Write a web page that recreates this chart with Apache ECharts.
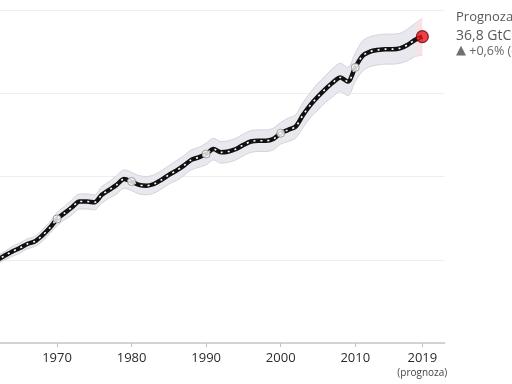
<!DOCTYPE html>
<html><head><meta charset="utf-8">
<script src="https://cdn.jsdelivr.net/npm/echarts@6/dist/echarts.min.js"></script>
<style>html,body{margin:0;padding:0;background:#fff;overflow:hidden}#c{width:512px;height:384px}</style>
</head><body><div id="c"></div>
<script>
// ---- data (GtCO2) ----
const axisYears = [1960,1961,1962,1963,1964,1965,1966,1967,1968,1969,
  1970,1971,1972,1973,1974,1975,1976,1977,1978,1979,
  1980,1981,1982,1983,1984,1985,1986,1987,1988,1989,
  1990,1991,1992,1993,1994,1995,1996,1997,1998,1999,
  2000,2001,2002,2003,2004,2005,2006,2007,2008,2009,
  2010,2011,2012,2013,2014,2015,2016,2017,2018,2019,
  2020,2021,2022];
const emissions = [9.4,9.5,10.0,10.5,11.0,11.4,11.9,12.2,12.9,13.8,
  14.9,15.6,16.3,17.0,17.0,16.9,17.8,18.4,19.0,19.7,
  19.4,19.0,18.9,19.1,19.6,20.2,20.7,21.3,22.0,22.3,
  22.7,23.3,22.9,23.0,23.3,23.8,24.2,24.3,24.3,24.5,
  25.2,25.6,26.0,27.4,28.6,29.6,30.5,31.3,31.9,31.4,
  33.1,34.5,35.0,35.2,35.3,35.3,35.4,35.8,36.4,36.8];
const uncertainty = [0.5,0.5,0.5,0.5,0.6,0.6,0.6,0.6,0.7,0.7,
  0.8,0.8,0.9,0.9,0.9,0.9,1.0,1.0,1.1,1.1,
  1.1,1.1,1.1,1.1,1.1,1.1,1.2,1.2,1.2,1.2,
  1.3,1.3,1.3,1.3,1.3,1.3,1.3,1.3,1.3,1.3,
  1.3,1.4,1.4,1.5,1.5,1.6,1.6,1.7,1.7,1.7,
  1.7,1.8,1.8,1.8,1.8,1.8,1.8,1.9,2.0,2.2];
const markerYears = [1970,1980,1990,2000,2010];
const tickYears = [1970,1980,1990,2000,2010,2019];
const forecastYear = 2019;
const forecastNote = '(prognoza)';
const sideTitle = 'Prognoza';
const sideValue = '36,8 GtCO₂';
const sideChange = '+0,6% (-0,2% do +1,5%)';

// ---- build ----
const fIdx = axisYears.indexOf(forecastYear);
const bandLow = axisYears.map((y,i)=> i < fIdx ? +(emissions[i]-uncertainty[i]).toFixed(2) : '-');
const bandThick = axisYears.map((y,i)=> i < fIdx ? +(2*uncertainty[i]).toFixed(2) : '-');
const projLow = axisYears.map((y,i)=> (i===fIdx-1||i===fIdx) ? +(emissions[i]-uncertainty[i]).toFixed(2) : '-');
const projThick = axisYears.map((y,i)=> (i===fIdx-1||i===fIdx) ? +(2*uncertainty[i]).toFixed(2) : '-');
const markers = markerYears.map(y=>[String(y), emissions[axisYears.indexOf(y)]]);
const forecastPt = [[String(forecastYear), emissions[fIdx]]];
const isTick = (i, v) => tickYears.indexOf(+v) >= 0;

const SM = 0.3;
const FONT = 'Open Sans';
const chart = echarts.init(document.getElementById('c'), null, {renderer:'canvas'});
chart.setOption({
  animation:false,
  backgroundColor:'#fff',
  textStyle:{fontFamily:FONT},
  grid:{left:-17.5, right:67.3, top:10, bottom:41, containLabel:false, outerBoundsMode:'none'},
  xAxis:{type:'category', data:axisYears.map(String), boundaryGap:false,
    axisLine:{show:true, lineStyle:{color:'#c8c8c8', width:1.5}},
    axisTick:{show:true, interval:isTick, length:4, lineStyle:{color:'#c0c0c0'}},
    axisLabel:{interval:isTick, margin:7, color:'#2b2b2b', fontSize:13, fontFamily:FONT,
      formatter:v => (+v)===forecastYear ? '{a|'+v+'}\n{b|'+forecastNote+'}' : '{a|'+v+'}',
      rich:{a:{fontSize:13, lineHeight:17, color:'#2b2b2b', fontFamily:FONT},
            b:{fontSize:10, lineHeight:13, color:'#444', fontFamily:FONT}}},
    splitLine:{show:false}},
  yAxis:{type:'value', min:0, max:40, interval:10,
    axisLine:{show:false}, axisTick:{show:false}, axisLabel:{show:false},
    splitLine:{show:true, lineStyle:{color:'#efefef', width:1}}},
  graphic:[
    {type:'text', x:456, y:17, style:{text:sideTitle, fill:'#595959', font:'13px "Open Sans"', verticalAlign:'middle'}},
    {type:'text', x:456, y:36.5, style:{text:sideValue, fill:'#595959', font:'14px "Open Sans"', verticalAlign:'middle'}},
    {type:'text', x:456, y:51, style:{text:'{t|▲}{v| '+sideChange+'}', verticalAlign:'middle',
      rich:{t:{fontSize:13, fill:'#707070', fontFamily:'DejaVu Sans'}, v:{fontSize:12.5, fill:'#666', fontFamily:FONT}}}}
  ],
  series:[
    {type:'line', data:bandLow, stack:'band', smooth:SM, symbol:'none', silent:true,
      lineStyle:{color:'#d2d2da', width:1}},
    {type:'line', data:bandThick, stack:'band', smooth:SM, symbol:'none', silent:true,
      lineStyle:{color:'#d2d2da', width:1}, areaStyle:{color:'#e8e8ee', opacity:1}},
    {type:'line', data:projLow, stack:'proj', smooth:SM, symbol:'none', silent:true,
      lineStyle:{color:'#f0d6da', width:1}},
    {type:'line', data:projThick, stack:'proj', smooth:SM, symbol:'none', silent:true,
      lineStyle:{color:'#f0d6da', width:1}, areaStyle:{color:'#f6e3e6', opacity:1}},
    {type:'line', data:emissions, smooth:SM, symbol:'none', silent:true, z:3,
      lineStyle:{color:'#111', width:4.5}},
    {type:'line', data:emissions, smooth:SM, symbol:'none', silent:true, z:4,
      lineStyle:{color:'#fff', width:1.6, type:[2,5]}},
    {type:'scatter', data:markers, symbol:'circle', symbolSize:8, z:5,
      itemStyle:{color:'#fff', borderColor:'#888', borderWidth:1}},
    {type:'scatter', data:forecastPt, symbol:'circle', symbolSize:12, z:6,
      itemStyle:{color:'#e8131b', borderColor:'#6d0000', borderWidth:1.2}}
  ]
});
</script></body></html>
